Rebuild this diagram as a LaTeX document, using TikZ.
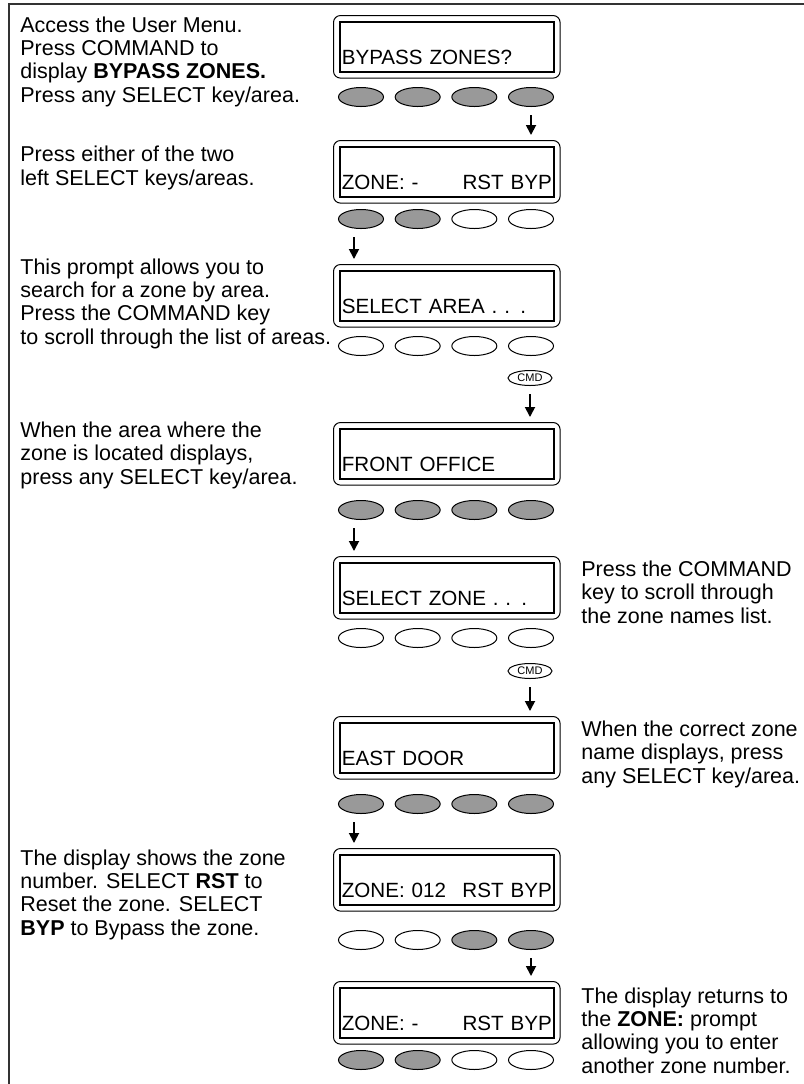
\documentclass[tikz,border=0pt]{standalone}
\usepackage{fontspec}
\setmainfont{Liberation Sans}
\usetikzlibrary{arrows.meta,positioning,fit,shapes.geometric}

\colorlet{keygray}{black!40}
\colorlet{framegray}{black!80}

\tikzset{
  lcd/.style={draw, line width=0.8pt, anchor=north west, minimum width=107pt,
    text width=105pt, inner xsep=1pt, inner ysep=0pt, align=left,
    text height=21.5pt, text depth=3.5pt, font=\fontsize{10.3}{12}\selectfont},
  lcdframe/.style={draw, line width=0.5pt, rounded corners=3.5pt, inner sep=2.75pt},
  key/.style={draw, ellipse, line width=0.5pt, minimum width=22.5pt,
    minimum height=9.5pt, inner sep=0pt},
  cmdkey/.style={draw, ellipse, line width=0.5pt, minimum width=22pt,
    minimum height=7.5pt, inner sep=0pt, font=\fontsize{5.5}{6}\selectfont},
  arr/.style={line width=0.9pt, -{Triangle[length=5pt,width=5pt]},
    shorten <=4pt, shorten >=2.5pt},
  txt/.style={anchor=base west, align=left, inner sep=0pt}
}

\begin{document}
\begin{tikzpicture}[x=0.5pt, y=-0.5pt, font=\fontsize{10.75}{11.65}\selectfont]
  \useasboundingbox (0,0) rectangle (804,1084);

  % frame (top and left only)
  \draw[framegray, line width=1pt] (804,4) -- (9,4) -- (9,1084);

  % displays
  \node[lcd] (d1) at (339,21)  {BYPASS ZONES?};
  \node[lcd] (d2) at (339,146) {ZONE: -\hfill RST BYP\hspace{4pt}};
  \node[lcd] (d3) at (339,270) {SELECT AREA . . .};
  \node[lcd] (d4) at (339,428) {FRONT OFFICE};
  \node[lcd] (d5) at (339,562) {SELECT ZONE . . .};
  \node[lcd] (d6) at (339,722) {EAST DOOR};
  \node[lcd] (d7) at (339,854) {ZONE: 012\hfill RST BYP\hspace{2.5pt}};
  \node[lcd] (d8) at (339,987) {ZONE: -\hfill RST BYP\hspace{4pt}};
  \foreach \d in {1,...,8}
    \node[lcdframe, fit=(d\d)] (d\d f) {};

  % select keys under each display
  \foreach \i/\c in {1/keygray,2/keygray,3/keygray,4/keygray}
    \node[key, fill=\c] (k1\i) at ({361+56.67*(\i-1)},97) {};
  \foreach \i/\c in {1/keygray,2/keygray,3/white,4/white}
    \node[key, fill=\c] (k2\i) at ({361+56.67*(\i-1)},219) {};
  \foreach \i/\c in {1/white,2/white,3/white,4/white}
    \node[key, fill=\c] (k3\i) at ({361+56.67*(\i-1)},346) {};
  \foreach \i/\c in {1/keygray,2/keygray,3/keygray,4/keygray}
    \node[key, fill=\c] (k4\i) at ({361+56.67*(\i-1)},510) {};
  \foreach \i/\c in {1/white,2/white,3/white,4/white}
    \node[key, fill=\c] (k5\i) at ({361+56.67*(\i-1)},638) {};
  \foreach \i/\c in {1/keygray,2/keygray,3/keygray,4/keygray}
    \node[key, fill=\c] (k6\i) at ({361+56.67*(\i-1)},804) {};
  \foreach \i/\c in {1/white,2/white,3/keygray,4/keygray}
    \node[key, fill=\c] (k7\i) at ({361+56.67*(\i-1)},940) {};
  \foreach \i/\c in {1/keygray,2/keygray,3/white,4/white}
    \node[key, fill=\c] (k8\i) at ({361+56.67*(\i-1)},1060) {};

  % command keys
  \node[cmdkey] (c3) at (530,378) {CMD};
  \node[cmdkey] (c5) at (530,671) {CMD};

  % arrows to the next display
  \draw[arr] (k14.south) -- (k14.south |- d2f.north);
  \draw[arr, transform canvas={xshift=-3.5pt}] (k21.south) -- (k21.south |- d3f.north);
  \draw[arr] (c3.south) -- (c3.south |- d4f.north);
  \draw[arr, transform canvas={xshift=-3.5pt}] (k41.south) -- (k41.south |- d5f.north);
  \draw[arr] (c5.south) -- (c5.south |- d6f.north);
  \draw[arr, transform canvas={xshift=-3.5pt}] (k61.south) -- (k61.south |- d7f.north);
  \draw[arr] (k74.south) -- (k74.south |- d8f.north);

  % instructions (placed at the baseline of the last line)
  \node[txt] (t1) at (20,102) {Access the User Menu.\\Press COMMAND to\\display \textbf{BYPASS ZONES.}\\Press any SELECT key/area.};
  \node[txt] (t2) at (20,185) {Press either of the two\\left SELECT keys/areas.};
  \node[txt] (t3) at (20,344) {This prompt allows you to\\search for a zone by area.\\Press the COMMAND key\\to scroll through the list of areas.};
  \node[txt] (t4) at (20,484) {When the area where the\\zone is located displays,\\press any SELECT key/area.};
  \node[txt] (t5) at (581,623) {Press the COMMAND\\key to scroll through\\the zone names list.};
  \node[txt] (t6) at (581,783) {When the correct zone\\name displays, press\\any SELECT key/area.};
  \node[txt] (t7) at (20,935) {The display shows the zone\\number. SELECT \textbf{RST} to\\Reset the zone. SELECT\\\textbf{BYP} to Bypass the zone.};
  \node[txt] (t8) at (581,1073) {The display returns to\\the \textbf{ZONE:} prompt\\allowing you to enter\\another zone number.};
\end{tikzpicture}
\end{document}
